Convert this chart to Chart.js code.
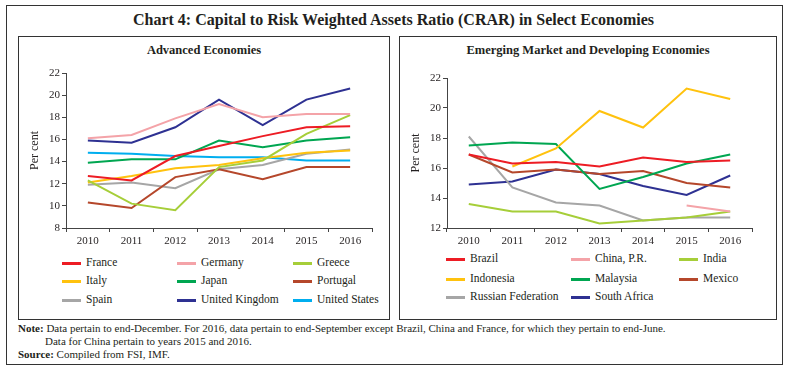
<!DOCTYPE html>
<html>
<head>
<meta charset="utf-8">
<script src="https://cdn.jsdelivr.net/npm/chart.js@4"></script>
<style>
  html, body { margin: 0; padding: 0; background: #fff; }
  body { width: 787px; height: 371px; position: relative; overflow: hidden;
         font-family: "Liberation Serif", "DejaVu Serif", serif; color: #231f20; }
  .box { position: absolute; border: 1px solid #333; box-sizing: border-box; }
  .abs { position: absolute; white-space: nowrap; }
  .title { font-weight: bold; font-size: 16px; left: 0; width: 787px; text-align: center; top: 11px; }
  .ptitle { font-weight: bold; font-size: 12.5px; text-align: center; top: 43px; }
  canvas { position: absolute; }
  .leg { position: absolute; font-size: 11.5px; line-height: 14px; }
  .leg .sw { position: absolute; height: 3px; width: 19px; }
  .leg .tx { position: absolute; white-space: nowrap; }
  .note { font-size: 11px; }
</style>
</head>
<body>
<div class="box" style="left:6px; top:5px; width:777px; height:360px;"></div>
<div class="abs title">Chart 4: Capital to Risk Weighted Assets Ratio (CRAR) in Select Economies</div>
<div class="box" style="left:18px; top:36px; width:372px; height:284px;"></div>
<div class="box" style="left:399px; top:36px; width:378px; height:284px;"></div>
<div class="abs ptitle" style="left:18px; width:372px;">Advanced Economies</div>
<div class="abs ptitle" style="left:399px; width:378px;">Emerging Market and Developing Economies</div>
<canvas id="c1" width="371" height="190" style="left:18px; top:60px; width:371px; height:190px;"></canvas>
<canvas id="c2" width="378" height="190" style="left:399px; top:60px; width:378px; height:190px;"></canvas>
<div id="leg1"></div>
<div id="leg2"></div>
<div class="abs note" style="left:18px; top:322px;"><b>Note:</b> Data pertain to end-December. For 2016, data pertain to end-September except Brazil, China and France, for which they pertain to end-June.</div>
<div class="abs note" style="left:45px; top:335px;">Data for China pertain to years 2015 and 2016.</div>
<div class="abs note" style="left:18px; top:348px;"><b>Source:</b> Compiled from FSI, IMF.</div>
<script>
const years = ["2010", "2011", "2012", "2013", "2014", "2015", "2016"];

// Advanced Economies
const advNames = ["France", "Germany", "Greece", "Italy", "Japan", "Portugal", "Spain", "United Kingdom", "United States"];
const france   = [12.7, 12.3, 14.5, 15.4, 16.3, 17.1, 17.2];
const germany  = [16.1, 16.4, 17.9, 19.2, 18.0, 18.3, 18.3];
const greece   = [12.3, 10.2, 9.6, 13.5, 14.1, 16.5, 18.2];
const italy    = [12.1, 12.7, 13.4, 13.7, 14.3, 14.8, 15.0];
const japan    = [13.9, 14.2, 14.2, 15.9, 15.3, 15.9, 16.2];
const portugal = [10.3, 9.8, 12.6, 13.3, 12.4, 13.5, 13.5];
const spain    = [11.9, 12.1, 11.6, 13.3, 13.7, 14.7, 15.1];
const uk       = [15.9, 15.7, 17.1, 19.6, 17.3, 19.6, 20.6];
const us       = [14.8, 14.7, 14.5, 14.4, 14.4, 14.1, 14.1];
const advTicks = [8, 10, 12, 14, 16, 18, 20, 22];

// Emerging Market and Developing Economies
const emeNames = ["Brazil", "China, P.R.", "India", "Indonesia", "Malaysia", "Mexico", "Russian Federation", "South Africa"];
const brazil    = [16.9, 16.3, 16.4, 16.1, 16.7, 16.4, 16.5];
const china     = [null, null, null, null, null, 13.5, 13.1];
const india     = [13.6, 13.1, 13.1, 12.3, 12.5, 12.7, 13.1];
const indonesia = [null, 16.1, 17.3, 19.8, 18.7, 21.3, 20.6];
const malaysia  = [17.5, 17.7, 17.6, 14.6, 15.4, 16.3, 16.9];
const mexico    = [16.9, 15.7, 15.9, 15.6, 15.8, 15.0, 14.7];
const russia    = [18.1, 14.7, 13.7, 13.5, 12.5, 12.7, 12.7];
const safrica   = [14.9, 15.1, 15.9, 15.6, 14.8, 14.2, 15.5];
const emeTicks = [12, 14, 16, 18, 20, 22];

const advColors = ["#ed1c24", "#f4a3a8", "#a6ce39", "#ffc20e", "#00a651", "#b5472b", "#a6a6a6", "#2e3192", "#00aeef"];
const emeColors = ["#ed1c24", "#f4a3a8", "#a6ce39", "#ffc20e", "#00a651", "#b5472b", "#a6a6a6", "#2e3192"];

const advData = [france, germany, greece, italy, japan, portugal, spain, uk, us];
const emeData = [brazil, china, india, indonesia, malaysia, mexico, russia, safrica];

Chart.defaults.font.family = '"Liberation Serif", "DejaVu Serif", serif';
Chart.defaults.color = "#231f20";

function makeChart(id, names, data, colors, ticks, padRight, padTop) {
  const datasets = names.map((n, i) => ({
    label: n, data: data[i], borderColor: colors[i], backgroundColor: colors[i],
    borderWidth: 2, pointRadius: 0, tension: 0, spanGaps: false
  }));
  return new Chart(document.getElementById(id), {
    type: "line",
    data: { labels: years, datasets },
    options: {
      responsive: false, animation: false, devicePixelRatio: 1,
      layout: { padding: { left: 0, right: padRight, top: padTop, bottom: 0 } },
      plugins: { legend: { display: false }, tooltip: { enabled: false }, title: { display: false } },
      scales: {
        x: {
          offset: true,
          grid: { display: true, offset: true, drawOnChartArea: false, drawTicks: true, tickLength: 4, color: "#444" },
          border: { display: true, color: "#444", width: 1 },
          ticks: { font: { size: 11 }, padding: 3, maxRotation: 0, color: "#231f20" },
          afterFit: s => { s.height = 22; }
        },
        y: {
          min: ticks[0], max: ticks[ticks.length - 1],
          afterBuildTicks: s => { s.ticks = ticks.map(v => ({ value: v })); },
          grid: { display: true, drawOnChartArea: false, drawTicks: true, tickLength: 4, color: "#444" },
          border: { display: true, color: "#444", width: 1 },
          ticks: { font: { size: 11 }, padding: 2, color: "#231f20" },
          title: { display: true, text: "Per cent", font: { size: 12 }, padding: { top: 10, bottom: 0 }, color: "#231f20" },
          afterFit: s => { s.width = 48; }
        }
      }
    }
  });
}

makeChart("c1", advNames, advData, advColors, advTicks, 17, 13);
makeChart("c2", emeNames, emeData, emeColors, emeTicks, 25, 18);

function makeLegend(id, names, colors, cols, rows) {
  const el = document.getElementById(id);
  names.forEach((n, i) => {
    const r = Math.floor(i / 3), c = i % 3;
    const x = cols[c], y = rows[r];
    const sw = document.createElement("div");
    sw.className = "leg";
    sw.innerHTML = '<div class="sw" style="left:' + x + 'px; top:' + (y - 1) + 'px; background:' + colors[i] + '"></div>' +
                   '<div class="tx" style="left:' + (x + 24) + 'px; top:' + (y - 8) + 'px;">' + n + '</div>';
    el.appendChild(sw);
  });
}
makeLegend("leg1", advNames, advColors, [62, 177, 293], [263, 281, 300]);
makeLegend("leg2", emeNames, emeColors, [446, 571, 679], [259, 279, 297]);
</script>
</body>
</html>
